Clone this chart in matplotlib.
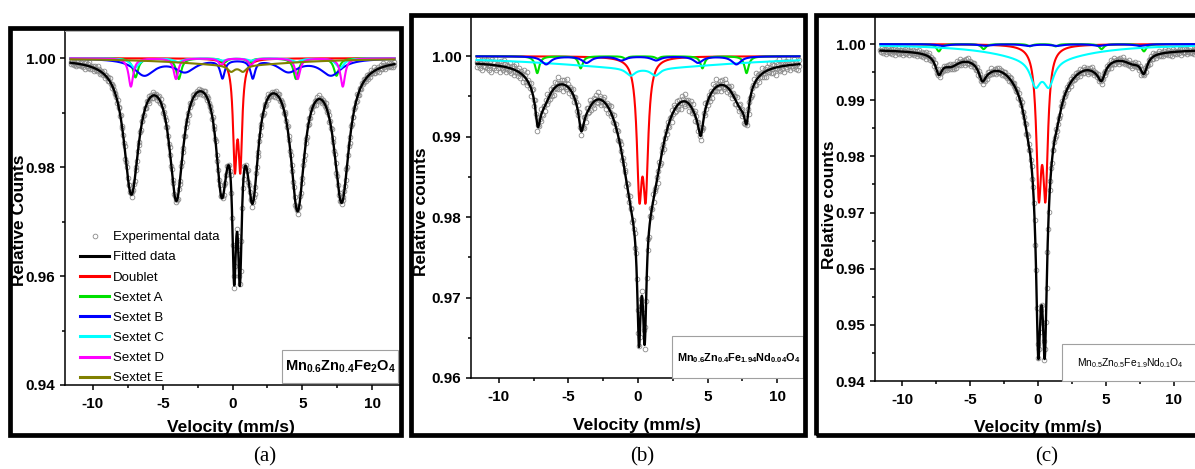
import numpy as np
import matplotlib
matplotlib.use("Agg")
import matplotlib.pyplot as plt
from matplotlib.lines import Line2D
from matplotlib.patches import Rectangle
from matplotlib.ticker import MultipleLocator, FormatStrFormatter

plt.rcParams["font.family"] = ["Liberation Sans Narrow", "Liberation Sans", "DejaVu Sans"]
plt.rcParams["axes.unicode_minus"] = False
plt.rcParams["mathtext.fontset"] = "custom"
plt.rcParams["mathtext.rm"] = "Liberation Sans"
plt.rcParams["mathtext.bf"] = "Liberation Sans:bold"
plt.rcParams["mathtext.it"] = "Liberation Sans:italic"

# Each component: (line positions mm/s, line depths, half widths mm/s)
# ---- (a) Mn0.6Zn0.4Fe2O4
a_fit = ([-7.25, -4.02, -0.77, 0.12, 0.53, 1.44, 4.66, 7.82],
         [0.0239, 0.0243, 0.0216, 0.0282, 0.0283, 0.0227, 0.0261, 0.0253],
         [0.65, 0.60, 0.50, 0.17, 0.17, 0.50, 0.60, 0.65])
a_doublet = ([0.17, 0.56], [0.0185, 0.0185], [0.16, 0.16])
a_sextet_a = ([-6.95, -3.85, -0.60, 1.20, 4.55, 7.45],
              [0.0035, 0.0038, 0.0008, 0.0008, 0.0038, 0.0032],
              [0.22, 0.22, 0.22, 0.22, 0.22, 0.22])
a_sextet_b = ([-6.32, -3.40, -0.72, 1.45, 4.00, 7.06],
              [0.0030, 0.0023, 0.0033, 0.0033, 0.0023, 0.0030],
              [0.90, 0.90, 0.20, 0.20, 0.90, 0.90])
a_sextet_c = ([-7.00, -3.90, -0.70, 1.35, 4.60, 7.70],
              [0.0018, 0.0007, 0.0004, 0.0004, 0.0007, 0.0018],
              [0.35, 0.35, 0.35, 0.35, 0.35, 0.35])
a_sextet_d = ([-7.28, -4.05, -0.82, 1.33, 4.67, 7.90],
              [0.0052, 0.0038, 0.0013, 0.0013, 0.0038, 0.0052],
              [0.20, 0.20, 0.20, 0.20, 0.20, 0.20])
a_sextet_e = ([0.30, -0.10, 0.75], [0.0013, 0.0011, 0.0011], [5.0, 0.30, 0.30])

# ---- (b) Mn0.6Zn0.4Fe1.94Nd0.04O4
b_fit = ([0.07, 0.48, -0.22, 0.78, -7.20, -4.08, 4.51, 7.80,
          -6.90, -3.90, -0.60, 1.30, 4.40, 7.40],
         [0.0150, 0.0150, 0.0095, 0.0095, 0.0035, 0.0030, 0.0030, 0.0035,
          0.0045, 0.0040, 0.0030, 0.0022, 0.0044, 0.0045],
         [0.15, 0.15, 1.20, 1.20, 0.20, 0.20, 0.20, 0.20,
          0.80, 0.80, 0.80, 0.80, 0.80, 0.80])
b_doublet = ([0.10, 0.55], [0.0153, 0.0153], [0.22, 0.22])
b_sextet_a = ([-7.24, -4.12, -0.90, 1.40, 4.63, 7.80],
              [0.0021, 0.0015, 0.0003, 0.0003, 0.0015, 0.0021],
              [0.18, 0.18, 0.18, 0.18, 0.18, 0.18])
b_sextet_b = ([-6.60, -3.70, -1.20, 1.30, 4.32, 7.07],
              [0.0010, 0.0008, 0.0005, 0.0005, 0.0008, 0.0010],
              [0.40, 0.40, 0.40, 0.40, 0.40, 0.40])
b_sextet_c = ([0.36, -0.53, 1.25], [0.0015, 0.0009, 0.0009], [8.0, 0.40, 0.40])

# ---- (c) Mn0.5Zn0.5Fe1.9Nd0.1O4
c_fit = ([0.02, 0.50, 0.02, 0.50, -0.12, 0.64, 0.26,
          -7.30, -4.10, -0.80, 1.45, 4.68, 7.79,
          -6.45, -3.80, 4.40, 7.00],
         [0.0165, 0.0165, 0.0173, 0.0173, 0.0074, 0.0074, 0.0015,
          0.0030, 0.0025, 0.0015, 0.0015, 0.0025, 0.0030,
          0.0020, 0.0015, 0.0015, 0.0015],
         [0.15, 0.15, 0.30, 0.30, 1.20, 1.20, 3.0,
          0.30, 0.30, 0.30, 0.30, 0.30, 0.30,
          0.80, 0.80, 0.80, 0.80])
c_doublet = ([0.06, 0.55], [0.0241, 0.0241], [0.22, 0.22])
c_sextet_a = ([-7.30, -4.00, -0.60, 1.30, 4.68, 7.80],
              [0.0013, 0.0009, 0.0004, 0.0004, 0.0009, 0.0013],
              [0.20, 0.20, 0.20, 0.20, 0.20, 0.20])
c_sextet_b = ([-7.00, -3.90, -0.70, 1.40, 4.50, 7.50],
              [0.0003, 0.0003, 0.0003, 0.0003, 0.0003, 0.0003],
              [0.50, 0.50, 0.50, 0.50, 0.50, 0.50])
c_sextet_c = ([0.31, -0.18, 0.80], [0.0028, 0.0043, 0.0043], [4.0, 0.45, 0.45])

# fit baselines and scatter of the measured counts about the fit (x1e-4)
fit_base = {"a": 1.0, "b": 0.9995, "c": 0.9992}
residuals = [3, -5, 8, -2, -7, 4, 1, -9, 6, -3, 10, -4, 2, -6, 7, -1, -8, 5, 0, -11,
             9, -2, 4, -5, 12, -7, 3, 1, -4, 6, -10, 2, 8, -3, -6, 11, -1, 5, -8, 3, -2]
noise_scale = {"a": 0.6, "b": 0.8, "c": 0.6}

formulas = {
    "a": r"$\mathbf{Mn_{0.6}Zn_{0.4}Fe_{2}O_{4}}$",
    "b": r"$\mathbf{Mn_{0.6}Zn_{0.4}Fe_{1.94}Nd_{0.04}O_{4}}$",
    "c": r"$\mathrm{Mn_{0.5}Zn_{0.5}Fe_{1.9}Nd_{0.1}O_{4}}$",
}

colors = {"fit": "black", "doublet": "#ff0000", "A": "#00e000", "B": "#0000ff",
          "C": "#00ffff", "D": "#ff00ff", "E": "#808000"}


def spectrum(v, comp, base=1.0):
    pos, depth, hw = comp
    out = np.full_like(v, base)
    for p, d, g in zip(pos, depth, hw):
        out -= d / (1 + ((v - p) / g) ** 2)
    return out


W, H = 1195, 469
fig = plt.figure(figsize=(W / 100, H / 100), dpi=100)
fig.patch.set_facecolor("white")


def fx(x):
    return x / W


def fy(y):
    return 1 - y / H


def add_axes_px(left, top, right, bottom):
    return fig.add_axes([fx(left), fy(bottom), (right - left) / W, (bottom - top) / H])


v = np.linspace(-11.6, 11.6, 2000)
v_exp = np.linspace(-11.6, 11.6, 420)


def draw_panel(key, box, ylim, ymajor, fit, comps, ylab, ylab_xy, xlab_xy, fsize,
               fbox, ftext_xy, ha="center"):
    ax = add_axes_px(*box)
    ax.set_xlim(-12, 12)
    ax.set_ylim(*ylim)

    noise = np.resize(np.array(residuals, dtype=float), v_exp.size) * 1e-4 * noise_scale[key]
    counts = spectrum(v_exp, fit, fit_base[key]) + noise
    ax.plot(v_exp, counts, "o", ms=3.4, mfc="none", mec="#8a8a8a", mew=0.6, zorder=2)
    ax.plot(v, spectrum(v, fit, fit_base[key]), color=colors["fit"], lw=1.7, zorder=3)
    for name, comp in comps:
        ax.plot(v, spectrum(v, comp), color=colors[name], lw=1.5, zorder=4)

    ax.xaxis.set_major_locator(MultipleLocator(5))
    ax.xaxis.set_minor_locator(MultipleLocator(2.5))
    ax.yaxis.set_major_locator(MultipleLocator(ymajor))
    ax.yaxis.set_minor_locator(MultipleLocator(ymajor / 2))
    ax.yaxis.set_major_formatter(FormatStrFormatter("%.2f"))
    ax.tick_params(which="both", direction="out", width=1.1, labelsize=11)
    ax.tick_params(which="major", length=3.5)
    ax.tick_params(which="minor", length=2.5)
    ax.tick_params(axis="y", pad=3.5)
    ax.tick_params(axis="x", pad=5)
    for lab in ax.get_xticklabels() + ax.get_yticklabels():
        lab.set_fontweight("bold")
    for s in ("left", "bottom"):
        ax.spines[s].set_linewidth(1.1)
    for s in ("top", "right"):
        ax.spines[s].set_color("#b5b5b5")
        ax.spines[s].set_linewidth(0.7)

    fig.text(fx(ylab_xy[0]), fy(ylab_xy[1]), ylab, rotation=90, ha="center", va="center",
             fontsize=12.5, fontweight="bold", family=["Liberation Sans", "DejaVu Sans"])
    fig.text(fx(xlab_xy[0]), fy(xlab_xy[1]), "Velocity (mm/s)", ha="center", va="center",
             fontsize=12.5, fontweight="bold")

    x0, y0, x1, y1 = fbox
    fig.add_artist(Rectangle((fx(x0), fy(y1)), (x1 - x0) / W, (y1 - y0) / H,
                             transform=fig.transFigure, facecolor="white",
                             edgecolor="#a0a0a0", lw=0.8, zorder=5))
    fig.text(fx(ftext_xy[0]), fy(ftext_xy[1]), formulas[key], ha=ha, va="center",
             fontsize=fsize, zorder=6)
    return ax


ax_a = draw_panel("a", (65, 31, 400, 385), (0.94, 1.005), 0.02, a_fit,
                  [("doublet", a_doublet), ("A", a_sextet_a), ("B", a_sextet_b),
                   ("C", a_sextet_c), ("D", a_sextet_d), ("E", a_sextet_e)],
                  "Relative Counts", (20, 220), (231, 427), 10.5,
                  (282, 350, 398, 383), (340, 367))
ax_b = draw_panel("b", (471, 16, 805, 378), (0.96, 1.005), 0.01, b_fit,
                  [("doublet", b_doublet), ("A", b_sextet_a), ("C", b_sextet_c),
                   ("B", b_sextet_b)],
                  "Relative counts", (421, 212), (637, 425), 7.8,
                  (672, 336, 803, 378), (739, 358))
ax_c = draw_panel("c", (875, 16, 1201, 381), (0.94, 1.005), 0.01, c_fit,
                  [("doublet", c_doublet), ("A", c_sextet_a), ("C", c_sextet_c),
                   ("B", c_sextet_b)],
                  "Relative counts", (829, 205), (1038, 427), 7.4,
                  (1062, 344, 1205, 381), (1077, 363), ha="left")

# legend of panel (a)
handles = [Line2D([], [], ls="none", marker="o", ms=3.4, mfc="none", mec="#8a8a8a", mew=0.6),
           Line2D([], [], color=colors["fit"], lw=2.2),
           Line2D([], [], color=colors["doublet"], lw=2.2),
           Line2D([], [], color=colors["A"], lw=2.2),
           Line2D([], [], color=colors["B"], lw=2.2),
           Line2D([], [], color=colors["C"], lw=2.2),
           Line2D([], [], color=colors["D"], lw=2.2),
           Line2D([], [], color=colors["E"], lw=2.2)]
labels = ["Experimental data", "Fitted data", "Doublet", "Sextet A", "Sextet B",
          "Sextet C", "Sextet D", "Sextet E"]
ax_a.legend(handles, labels, loc="upper left", bbox_to_anchor=(fx(80), fy(231)),
            bbox_transform=fig.transFigure, frameon=False, borderpad=0, borderaxespad=0,
            handlelength=2.2, handletextpad=0.3, labelspacing=0.6,
            prop={"family": ["Liberation Sans", "DejaVu Sans"], "size": 9.5})

# outer frames and captions
for x0, y0, x1, y1 in [(10, 28, 401, 435), (411, 15, 805, 435), (816, 15, 1210, 435)]:
    fig.add_artist(Rectangle((fx(x0), fy(y1)), (x1 - x0) / W, (y1 - y0) / H,
                             transform=fig.transFigure, fill=False, edgecolor="black",
                             lw=3.4, zorder=10))
for cap, xc in [("(a)", 265), ("(b)", 642), ("(c)", 1047)]:
    fig.text(fx(xc), fy(457), cap, ha="center", va="center", fontsize=15,
             family=["Liberation Serif", "DejaVu Serif"])

fig.savefig("out.png", dpi=100)
